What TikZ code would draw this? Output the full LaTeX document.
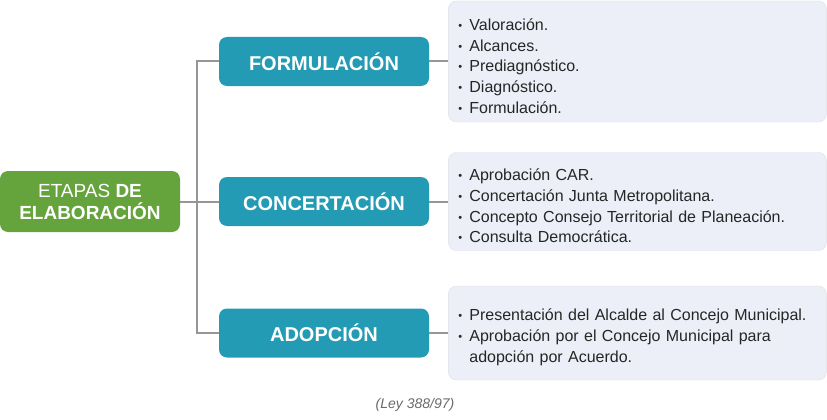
\documentclass[tikz,border=0pt]{standalone}
\usepackage{fontspec}
\setmainfont{Liberation Sans}
\usetikzlibrary{positioning}
\definecolor{verde}{RGB}{101,163,60}
\definecolor{azul}{RGB}{35,155,180}
\definecolor{gris}{RGB}{150,150,150}
\definecolor{celeste}{RGB}{236,239,248}
\newcommand{\itm}[1]{\par\raggedright\noindent\makebox[11pt][l]{\raisebox{1pt}{\fontsize{11}{11}\selectfont\textbullet}}#1}
\newcommand{\sig}[1]{\par\raggedright\noindent\hspace*{11pt}#1}

\begin{document}
\begin{tikzpicture}[x=1pt,y=-1pt,node distance=19pt]
\tikzstyle{raiz} = [rectangle, fill=verde, text=white, rounded corners=8pt, minimum width=180pt, minimum height=61pt, align=center, inner sep=0pt, font=\fontsize{19}{22}\selectfont]
\tikzstyle{etapa} = [rectangle, fill=azul, text=white, rounded corners=8pt, minimum width=210pt, minimum height=49pt, font=\fontsize{20}{22}\selectfont\bfseries]
\tikzstyle{lista} = [rectangle, fill=celeste, draw=celeste!85!gray, rounded corners=8pt, minimum width=378pt, text width=358pt, align=left, text=black!85, font=\fontsize{16}{20.7}\selectfont]
\tikzstyle{linea} = [draw=gris, line width=2pt]
\useasboundingbox (0,0) rectangle (827,420);
\node[raiz] (etapas) at (90,201.5) {ETAPAS \textbf{DE}\\\textbf{ELABORACIÓN}};
\node[etapa] (form) at (324,61.5) {FORMULACIÓN};
\node[etapa] (conc) at (324,201.5) {CONCERTACIÓN};
\node[etapa] (adop) at (324,333) {ADOPCIÓN};
\node[lista, minimum height=121pt, right=of form] (lform) {\itm{Valoración.}\itm{Alcances.}\itm{Prediagnóstico.}\itm{Diagnóstico.}\itm{Formulación.}};
\node[lista, minimum height=98pt, right=of conc] (lconc) {\itm{Aprobación CAR.}\itm{Concertación Junta Metropolitana.}\itm{Concepto Consejo Territorial de Planeación.}\itm{Consulta Democrática.}};
\node[lista, minimum height=94pt, right=of adop] (ladop) {\itm{Presentación del Alcalde al Concejo Municipal.}\itm{Aprobación por el Concejo Municipal para}\sig{adopción por Acuerdo.}};
\node[text=gris!70!black, font=\itshape\fontsize{14}{16}\selectfont] (ley) at (415,405) {(Ley 388/97)};
\coordinate[right=17pt of etapas] (tronco);
% conectores
\draw[linea] (etapas) -- (tronco);
\draw[linea] (form) -| (tronco) |- (adop);
\draw[linea] (tronco) -- (conc);
\draw[linea] (form) -- (lform);
\draw[linea] (conc) -- (lconc);
\draw[linea] (adop) -- (ladop);
\end{tikzpicture}
\end{document}
